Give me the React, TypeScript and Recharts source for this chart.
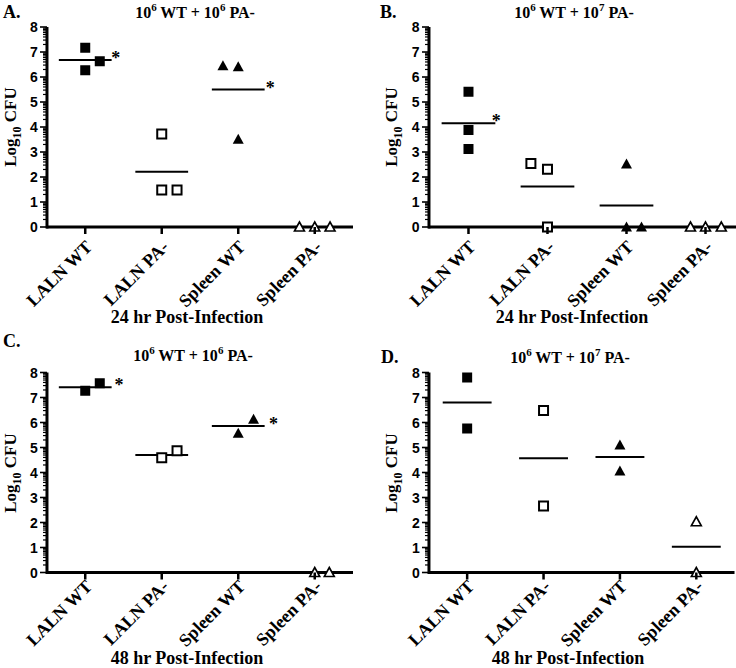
import { ScatterChart, Scatter, XAxis, YAxis, ReferenceLine, ReferenceArea } from 'recharts';

// categories and axis ticks
const categories = ['LALN WT', 'LALN PA-', 'Spleen WT', 'Spleen PA-'];
const categoryTicks = [1, 2, 3, 4];
const yTicks = [0, 1, 2, 3, 4, 5, 6, 7, 8];
// log-scale minor ticks inside each decade (log10 of 2..9)
const minorOffsets = [0.301, 0.477, 0.602, 0.699, 0.778, 0.845, 0.903, 0.954];

// A. 10^6 WT + 10^6 PA-, 24 hr
const aLalnWt = [{ x: 1, y: 7.17 }, { x: 1, y: 6.27 }, { x: 1.19, y: 6.63 }];
const aLalnPa = [{ x: 2, y: 3.72 }, { x: 2, y: 1.48 }, { x: 2.2, y: 1.48 }];
const aSpleenWt = [{ x: 2.8, y: 6.45 }, { x: 3, y: 6.41 }, { x: 3, y: 3.51 }];
const aSpleenPa = [{ x: 3.8, y: 0 }, { x: 4, y: 0 }, { x: 4.2, y: 0 }];
const aMeans = [6.68, 2.21, 5.5, 0];
const aStars = [{ x: 1.4, y: 6.68 }, { x: 3.42, y: 5.5 }];

// B. 10^6 WT + 10^7 PA-, 24 hr
const bLalnWt = [{ x: 1, y: 5.41 }, { x: 1, y: 3.88 }, { x: 1, y: 3.12 }];
const bLalnPa = [{ x: 1.79, y: 2.54 }, { x: 2, y: 2.31 }, { x: 2, y: 0 }];
const bSpleenWt = [{ x: 3, y: 2.52 }, { x: 3, y: 0 }, { x: 3.19, y: 0 }];
const bSpleenPa = [{ x: 3.81, y: 0 }, { x: 4, y: 0 }, { x: 4.2, y: 0 }];
const bMeans = [4.15, 1.62, 0.86, 0];
const bStars = [{ x: 1.35, y: 4.15 }];

// C. 10^6 WT + 10^6 PA-, 48 hr
const cLalnWt = [{ x: 1, y: 7.27 }, { x: 1.19, y: 7.57 }];
const cLalnPa = [{ x: 2, y: 4.59 }, { x: 2.2, y: 4.87 }];
const cSpleenWt = [{ x: 3, y: 5.57 }, { x: 3.2, y: 6.13 }];
const cSpleenPa = [{ x: 4, y: 0 }, { x: 4.19, y: 0 }];
const cMeans = [7.41, 4.7, 5.86, 0];
const cStars = [{ x: 1.44, y: 7.41 }, { x: 3.46, y: 5.86 }];

// D. 10^6 WT + 10^7 PA-, 48 hr
const dLalnWt = [{ x: 1, y: 7.8 }, { x: 1, y: 5.76 }];
const dLalnPa = [{ x: 2, y: 6.48 }, { x: 2, y: 2.66 }];
const dSpleenWt = [{ x: 3, y: 5.1 }, { x: 3, y: 4.06 }];
const dSpleenPa = [{ x: 4, y: 2.03 }, { x: 4, y: 0 }];
const dMeans = [6.8, 4.57, 4.62, 1.03];
const dStars: { x: number; y: number }[] = [];

const minorTicks = yTicks.slice(0, -1).flatMap((n) => minorOffsets.map((m) => n + m));

// domains leave a little room outside the axis lines so nothing sits on the plot edge
const X_DOMAIN = [0.38, 4.5];
const Y_DOMAIN = [-0.4, 8];

const serif = '"Liberation Serif", "Times New Roman", serif';
const sans = '"Liberation Sans", Arial, sans-serif';

const FilledSquare = (p: any) => (
    <rect x={p.cx - 5} y={p.cy - 5} width={10} height={10} fill="#000" />
);
const OpenSquare = (p: any) => (
    <rect x={p.cx - 4.5} y={p.cy - 4.5} width={9} height={9} fill="#fff" stroke="#000" strokeWidth={2} />
);
const FilledTriangle = (p: any) => (
    <path d={`M${p.cx},${p.cy - 5.5}L${p.cx + 5.5},${p.cy + 4.5}L${p.cx - 5.5},${p.cy + 4.5}Z`} fill="#000" />
);
const OpenTriangle = (p: any) => (
    <path
        d={`M${p.cx},${p.cy - 5}L${p.cx + 5},${p.cy + 4}L${p.cx - 5},${p.cy + 4}Z`}
        fill="#fff"
        stroke="#000"
        strokeWidth={1.6}
    />
);
const Star = (p: any) => (
    <text x={p.cx} y={p.cy + 4} textAnchor="middle" fontFamily={serif} fontWeight="bold" fontSize={18} fill="#000">
        *
    </text>
);

const YTick = (props: any) => {
    const { x, y, payload } = props;
    return (
        <text x={x} y={y} dy={5} textAnchor="end" fontFamily={sans} fontWeight="bold" fontSize={14} fill="#000">
            {payload.value}
        </text>
    );
};

// x tick sits on the plot bottom, which is 10px under the zero line
const makeCategoryTick = (labelDy: number) => (props: any) => {
    const { x, y, payload } = props;
    const axisY = y - 10;
    const tx = x + 8;
    const ty = axisY + labelDy;
    return (
        <g>
            <rect x={x - 1.25} y={axisY} width={2.5} height={7} fill="#000" />
            <text
                x={tx}
                y={ty}
                textAnchor="end"
                transform={`rotate(-45, ${tx}, ${ty})`}
                fontFamily={serif}
                fontWeight="bold"
                fontSize={18}
                fill="#000"
            >
                {categories[payload.value - 1]}
            </text>
        </g>
    );
};

interface PanelConfig {
    left: number;
    top: number;
    width: number;
    height: number;
    marginTop: number;
    marginRight: number;
    yAxisWidth: number;
    xAxisHeight: number;
    labelDy: number;
}

const cfgA: PanelConfig = { left: 0, top: 0, width: 368, height: 330, marginTop: 27, marginRight: 15, yAxisWidth: 37.8, xAxisHeight: 93, labelDy: 21 };
const cfgB: PanelConfig = { left: 368, top: 0, width: 380, height: 330, marginTop: 27, marginRight: 3, yAxisWidth: 51.5, xAxisHeight: 93, labelDy: 21 };
const cfgC: PanelConfig = { left: 0, top: 330, width: 368, height: 338, marginTop: 42.5, marginRight: 15, yAxisWidth: 37.8, xAxisHeight: 85.5, labelDy: 15 };
const cfgD: PanelConfig = { left: 368, top: 330, width: 368, height: 338, marginTop: 42.5, marginRight: 1.5, yAxisWidth: 51.8, xAxisHeight: 85.5, labelDy: 15 };

// same linear mapping the chart uses for its plot box
const scales = (c: PanelConfig) => {
    const px0 = c.left + c.yAxisWidth;
    const px1 = c.left + c.width - c.marginRight;
    const py0 = c.top + c.marginTop;
    const py1 = c.top + c.height - c.xAxisHeight;
    const sx = (v: number) => px0 + ((v - X_DOMAIN[0]) / (X_DOMAIN[1] - X_DOMAIN[0])) * (px1 - px0);
    const sy = (v: number) => py1 - ((v - Y_DOMAIN[0]) / (Y_DOMAIN[1] - Y_DOMAIN[0])) * (py1 - py0);
    return { sx, sy };
};

// y axis line with major and log-minor ticks
const YAxisFrame = ({ c }: { c: PanelConfig }) => {
    const { sx, sy } = scales(c);
    const x0 = sx(0.5);
    return (
        <g>
            <line x1={x0} x2={x0} y1={sy(0) + 1.5} y2={sy(8)} stroke="#000" strokeWidth={3} />
            {yTicks.map((v) => (
                <line key={`M${v}`} x1={x0 - 7} x2={x0} y1={sy(v)} y2={sy(v)} stroke="#000" strokeWidth={1.6} />
            ))}
            {minorTicks.map((v) => (
                <line key={`m${v}`} x1={x0 - 4} x2={x0} y1={sy(v)} y2={sy(v)} stroke="#000" strokeWidth={1.2} />
            ))}
        </g>
    );
};

interface PanelProps {
    c: PanelConfig;
    groups: { x: number; y: number }[][];
    means: number[];
    stars: { x: number; y: number }[];
    halfWidth: number;
}

const shapes = [FilledSquare, OpenSquare, FilledTriangle, OpenTriangle];

const Panel = ({ c, groups, means, stars, halfWidth }: PanelProps) => {
    const CategoryTick = makeCategoryTick(c.labelDy);
    return (
        <div style={{ position: 'absolute', left: c.left, top: c.top }}>
            <ScatterChart width={c.width} height={c.height} margin={{ top: c.marginTop, right: c.marginRight, left: 0, bottom: 0 }}>
                <XAxis
                    type="number"
                    dataKey="x"
                    domain={X_DOMAIN}
                    ticks={categoryTicks}
                    interval={0}
                    tick={<CategoryTick />}
                    tickLine={false}
                    tickSize={0}
                    tickMargin={0}
                    axisLine={false}
                    height={c.xAxisHeight}
                />
                <YAxis
                    type="number"
                    dataKey="y"
                    domain={Y_DOMAIN}
                    ticks={yTicks}
                    interval={0}
                    tick={<YTick />}
                    tickLine={false}
                    tickSize={0}
                    tickMargin={0}
                    axisLine={false}
                    width={c.yAxisWidth}
                />
                {/* x axis line at zero, under the markers */}
                <ReferenceArea x1={0.49} x2={4.5} y1={-0.06} y2={0.06} fill="#000" fillOpacity={1} stroke="none" ifOverflow="visible" />
                {means.map((m, i) => (
                    <ReferenceLine
                        key={`m${i}`}
                        segment={[
                            { x: i + 1 - halfWidth, y: m },
                            { x: i + 1 + halfWidth, y: m },
                        ]}
                        stroke="#000"
                        strokeWidth={2}
                    />
                ))}
                {groups.map((g, i) => (
                    <Scatter key={`g${i}`} data={g} shape={shapes[i]} isAnimationActive={false} />
                ))}
                {stars.length > 0 && <Scatter data={stars} shape={Star} isAnimationActive={false} />}
            </ScatterChart>
        </div>
    );
};

const Title = ({ x, y, b }: { x: number; y: number; b: string }) => (
    <text x={x} y={y} textAnchor="middle" fontFamily={serif} fontWeight="bold" fontSize={16} fill="#000">
        10<tspan dy={-7} fontSize={11}>6</tspan>
        <tspan dy={7}> WT + 10</tspan>
        <tspan dy={-7} fontSize={11}>{b}</tspan>
        <tspan dy={7}> PA-</tspan>
    </text>
);

const YLabel = ({ x, y }: { x: number; y: number }) => (
    <text
        x={x}
        y={y}
        textAnchor="middle"
        transform={`rotate(-90, ${x}, ${y})`}
        fontFamily={serif}
        fontWeight="bold"
        fontSize={17}
        fill="#000"
    >
        Log<tspan dy={5} fontSize={12}>10</tspan>
        <tspan dy={-5}> CFU</tspan>
    </text>
);

const XLabel = ({ x, y, text }: { x: number; y: number; text: string }) => (
    <text x={x} y={y} textAnchor="middle" fontFamily={serif} fontWeight="bold" fontSize={18} fill="#000">
        {text}
    </text>
);

const Letter = ({ x, y, text }: { x: number; y: number; text: string }) => (
    <text x={x} y={y} fontFamily={serif} fontWeight="bold" fontSize={18} fill="#000">
        {text}
    </text>
);

export default function App() {
    return (
        <div style={{ position: 'absolute', left: 0, top: 0, width: 736, height: 668, overflow: 'hidden', background: '#fff' }}>
            <Panel c={cfgA} groups={[aLalnWt, aLalnPa, aSpleenWt, aSpleenPa]} means={aMeans} stars={aStars} halfWidth={0.345} />
            <Panel c={cfgB} groups={[bLalnWt, bLalnPa, bSpleenWt, bSpleenPa]} means={bMeans} stars={bStars} halfWidth={0.34} />
            <Panel c={cfgC} groups={[cLalnWt, cLalnPa, cSpleenWt, cSpleenPa]} means={cMeans} stars={cStars} halfWidth={0.345} />
            <Panel c={cfgD} groups={[dLalnWt, dLalnPa, dSpleenWt, dSpleenPa]} means={dMeans} stars={dStars} halfWidth={0.32} />
            <svg width={736} height={668} style={{ position: 'absolute', left: 0, top: 0, pointerEvents: 'none' }}>
                <YAxisFrame c={cfgA} />
                <YAxisFrame c={cfgB} />
                <YAxisFrame c={cfgC} />
                <YAxisFrame c={cfgD} />
                <Letter x={3} y={18} text="A." />
                <Letter x={380} y={18} text="B." />
                <Letter x={3} y={347} text="C." />
                <Letter x={381} y={363} text="D." />
                <Title x={195} y={18} b="6" />
                <Title x={574} y={18} b="7" />
                <Title x={193} y={361} b="6" />
                <Title x={570} y={363} b="7" />
                <YLabel x={16} y={127} />
                <YLabel x={397} y={127} />
                <YLabel x={16} y={473} />
                <YLabel x={397} y={473} />
                <XLabel x={187} y={323} text="24 hr Post-Infection" />
                <XLabel x={572} y={323} text="24 hr Post-Infection" />
                <XLabel x={187} y={664} text="48 hr Post-Infection" />
                <XLabel x={568} y={664} text="48 hr Post-Infection" />
            </svg>
        </div>
    );
}
